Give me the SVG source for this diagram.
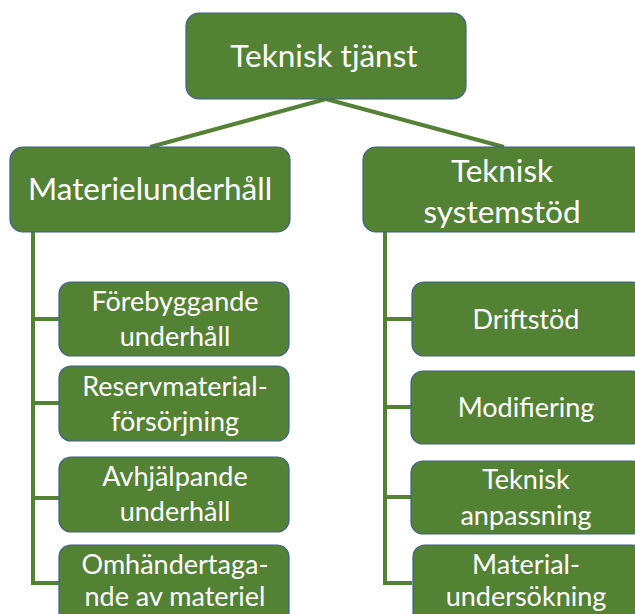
<svg xmlns="http://www.w3.org/2000/svg" width="635" height="614" viewBox="0 0 635 614">
<style>
.box{fill:#548235;stroke:#3d5f94;stroke-width:1.2}
.ln{stroke:#548235;stroke-width:4;fill:none}
text{font-family:Lato,"Liberation Sans",sans-serif;fill:#ffffff;text-anchor:middle}
.t1{font-size:31.5px}
.t2{font-size:27px}
</style>
<rect width="635" height="614" fill="#ffffff"/>
<g id="connectors">
<line class="ln" x1="326" y1="99" x2="150" y2="147"/>
<line class="ln" x1="326" y1="99" x2="504" y2="147"/>
<polyline class="ln" points="33,232 33,583 59,583"/>
<line class="ln" x1="33" y1="319" x2="59" y2="319"/>
<line class="ln" x1="33" y1="403" x2="59" y2="403"/>
<line class="ln" x1="33" y1="498" x2="59" y2="498"/>
<polyline class="ln" points="385,232 385,583 412,583"/>
<line class="ln" x1="385" y1="319" x2="412" y2="319"/>
<line class="ln" x1="385" y1="407" x2="412" y2="407"/>
<line class="ln" x1="385" y1="497" x2="412" y2="497"/>
</g>
<g id="n-root"><rect class="box" x="186" y="13" width="280" height="86" rx="13"/><text class="t1" x="324" y="67">Teknisk tjänst</text></g>
<g id="n-materielunderhall"><rect class="box" x="10" y="147" width="280" height="85" rx="13"/><text class="t1" x="150" y="200">Materielunderhåll</text></g>
<g id="n-systemstod"><rect class="box" x="363" y="147" width="285" height="85" rx="13"/><text class="t1" x="502" y="182">Teknisk</text><text class="t1" x="502" y="223">systemstöd</text></g>
<g id="n-forebyggande"><rect class="box" x="59" y="282" width="230" height="74" rx="12"/><text class="t2" x="175" y="311">Förebyggande</text><text class="t2" x="175" y="346">underhåll</text></g>
<g id="n-reserv"><rect class="box" x="59" y="366" width="230" height="75" rx="12"/><text class="t2" x="175" y="396">Reservmaterial-</text><text class="t2" x="175" y="431">försörjning</text></g>
<g id="n-avhjalpande"><rect class="box" x="59" y="457" width="230" height="75" rx="12"/><text class="t2" x="175" y="486">Avhjälpande</text><text class="t2" x="175" y="521">underhåll</text></g>
<g id="n-omhandertagande"><rect class="box" x="59" y="545" width="230" height="80" rx="12"/><text class="t2" x="175" y="574">Omhändertaga-</text><text class="t2" x="175" y="606">nde av materiel</text></g>
<g id="n-driftstod"><rect class="box" x="412" y="282" width="232" height="74" rx="12"/><text class="t2" x="526" y="329">Driftstöd</text></g>
<g id="n-modifiering"><rect class="box" x="411" y="371" width="233" height="73" rx="12"/><text class="t2" x="526" y="417">Modifiering</text></g>
<g id="n-anpassning"><rect class="box" x="411" y="461" width="233" height="73" rx="12"/><text class="t2" x="526" y="489">Teknisk</text><text class="t2" x="526" y="525">anpassning</text></g>
<g id="n-materialundersokning"><rect class="box" x="413" y="545" width="231" height="80" rx="12"/><text class="t2" x="526" y="574">Material-</text><text class="t2" x="526" y="606">undersökning</text></g>
</svg>
